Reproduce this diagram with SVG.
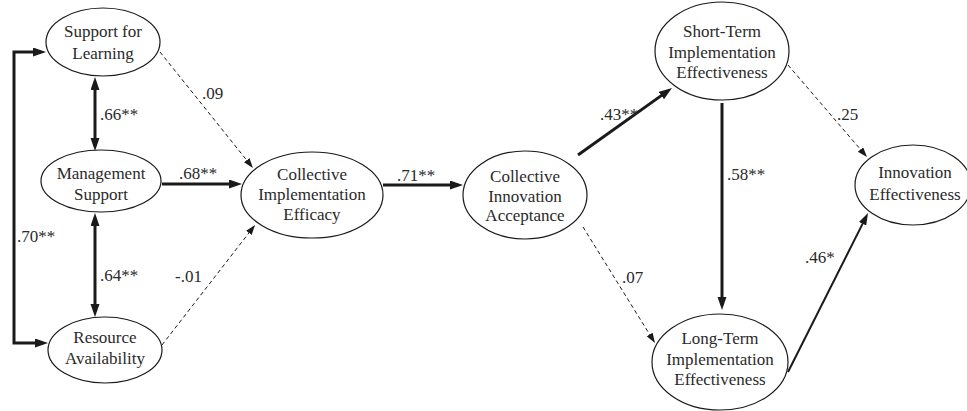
<svg xmlns="http://www.w3.org/2000/svg" width="967" height="411" viewBox="0 0 967 411">
<defs>
<style>
.node ellipse{fill:#fff;stroke:#1a1a1a;stroke-width:1.2}
text{font-family:"Liberation Serif","Times New Roman",serif;font-size:17px;fill:#2a2a2a}
.node text{text-anchor:middle}
.thick{fill:none;stroke:#1a1a1a;stroke-width:3}
.med{fill:none;stroke:#1a1a1a;stroke-width:2}
.dash{fill:none;stroke:#1a1a1a;stroke-width:1;stroke-dasharray:4 3}
</style>
<marker id="ah" markerUnits="userSpaceOnUse" markerWidth="14" markerHeight="10" refX="8" refY="4.5" orient="auto-start-reverse"><path d="M0,0 L13,4.5 L0,9 z" fill="#1a1a1a"/></marker>
<marker id="ahm" markerUnits="userSpaceOnUse" markerWidth="13" markerHeight="9" refX="8" refY="4" orient="auto"><path d="M0,0 L12,4 L0,8 z" fill="#1a1a1a"/></marker>
<marker id="ahd" markerUnits="userSpaceOnUse" markerWidth="11" markerHeight="8" refX="8" refY="3.5" orient="auto"><path d="M0,0 L10,3.5 L0,7 z" fill="#1a1a1a"/></marker>
</defs>
<rect width="967" height="411" fill="#fff"/>
<g id="connectors">
<path class="thick" d="M41,52 H14 V343 H43" marker-start="url(#ah)" marker-end="url(#ah)"/>
<path class="thick" d="M95,82 V146" marker-start="url(#ah)" marker-end="url(#ah)"/>
<path class="thick" d="M95,218 V312" marker-start="url(#ah)" marker-end="url(#ah)"/>
<path class="thick" d="M162,184 H237" marker-end="url(#ah)"/>
<path class="dash" d="M160,52 L251.7,166.4" marker-end="url(#ahd)"/>
<path class="dash" d="M162,345 L253.8,226.6" marker-end="url(#ahd)"/>
<path class="thick" d="M383,185 H458" marker-end="url(#ah)"/>
<path class="thick" d="M578,155 L667.9,90.9" marker-end="url(#ah)"/>
<path class="dash" d="M583,227 L653.9,341.3" marker-end="url(#ahd)"/>
<path class="thick" d="M722,103 V305" marker-end="url(#ah)"/>
<path class="dash" d="M788,65 L865.7,155.5" marker-end="url(#ahd)"/>
<path class="med" d="M788,372 L866.2,216.6" marker-end="url(#ahm)"/>
</g>
<g id="labels">
<text x="202" y="99">.09</text>
<text x="100" y="120">.66**</text>
<text x="179" y="179">.68**</text>
<text x="17" y="242">.70**</text>
<text x="100" y="281">.64**</text>
<text x="175" y="282">-.01</text>
<text x="397" y="181">.71**</text>
<text x="600" y="120">.43**</text>
<text x="727" y="180">.58**</text>
<text x="837" y="120">.25</text>
<text x="622" y="283">.07</text>
<text x="805" y="263">.46*</text>
</g>
<g id="support-for-learning" class="node">
<ellipse cx="103" cy="42" rx="57" ry="34"/>
<text x="103" y="37">Support for</text>
<text x="103" y="59">Learning</text>
</g>
<g id="management-support" class="node">
<ellipse cx="101" cy="181" rx="60" ry="31"/>
<text x="101" y="179">Management</text>
<text x="101" y="200">Support</text>
</g>
<g id="resource-availability" class="node">
<ellipse cx="105" cy="350" rx="57" ry="33"/>
<text x="105" y="343">Resource</text>
<text x="105" y="364">Availability</text>
</g>
<g id="collective-implementation-efficacy" class="node">
<ellipse cx="312" cy="195" rx="71" ry="43"/>
<text x="312" y="180">Collective</text>
<text x="312" y="200">Implementation</text>
<text x="312" y="220">Efficacy</text>
</g>
<g id="collective-innovation-acceptance" class="node">
<ellipse cx="525" cy="195" rx="62" ry="44"/>
<text x="525" y="182">Collective</text>
<text x="525" y="202">Innovation</text>
<text x="525" y="221">Acceptance</text>
</g>
<g id="short-term-implementation-effectiveness" class="node">
<ellipse cx="722" cy="51" rx="67" ry="49"/>
<text x="722" y="37">Short-Term</text>
<text x="722" y="58">Implementation</text>
<text x="722" y="78">Effectiveness</text>
</g>
<g id="long-term-implementation-effectiveness" class="node">
<ellipse cx="720" cy="362" rx="68" ry="48"/>
<text x="720" y="344">Long-Term</text>
<text x="720" y="365">Implementation</text>
<text x="720" y="385">Effectiveness</text>
</g>
<g id="innovation-effectiveness" class="node">
<ellipse cx="913" cy="185" rx="58" ry="40"/>
<text x="915" y="178">Innovation</text>
<text x="915" y="200">Effectiveness</text>
</g>
</svg>
